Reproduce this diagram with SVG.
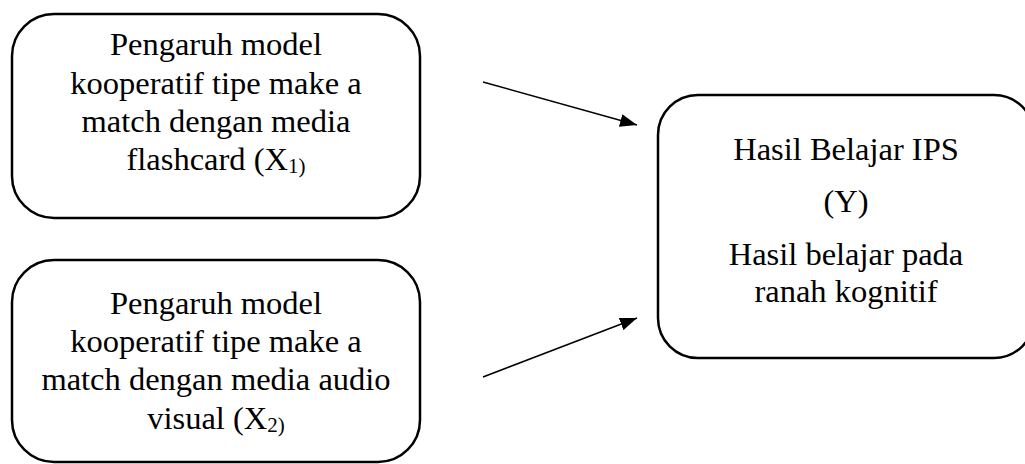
<svg xmlns="http://www.w3.org/2000/svg" width="1025" height="464" viewBox="0 0 1025 464">
  <style>
    .box { fill: #ffffff; stroke: #000000; stroke-width: 2.5; }
    .t { font-family: "Liberation Serif", "Times New Roman", serif; font-size: 32.5px; fill: #000000; text-anchor: middle; }
    .sub { font-size: 21px; }
    .conn { stroke: #000000; stroke-width: 1.5; fill: none; marker-end: url(#arrow); }
  </style>
  <defs>
    <marker id="arrow" viewBox="0 0 17 13" refX="17" refY="6.5" markerWidth="17" markerHeight="13" markerUnits="userSpaceOnUse" orient="auto">
      <path d="M0,0 L17,6.5 L0,13 Z" fill="#000000"/>
    </marker>
  </defs>
  <rect width="1025" height="464" fill="#ffffff"/>
  <g id="node-x1">
    <rect class="box" x="12" y="14" width="408" height="204" rx="42" ry="42"/>
    <text class="t" x="216" y="55">Pengaruh model</text>
    <text class="t" x="216" y="93.5">kooperatif tipe make a</text>
    <text class="t" x="216" y="132">match dengan media</text>
    <text class="t" x="216" y="170">flashcard (X<tspan class="sub" dy="3">1)</tspan></text>
  </g>
  <g id="node-x2">
    <rect class="box" x="12" y="260" width="408" height="202" rx="42" ry="42"/>
    <text class="t" x="216" y="313.5">Pengaruh model</text>
    <text class="t" x="216" y="352">kooperatif tipe make a</text>
    <text class="t" x="216" y="390">match dengan media audio</text>
    <text class="t" x="216" y="428.5">visual (X<tspan class="sub" dy="3">2)</tspan></text>
  </g>
  <g id="node-y">
    <rect class="box" x="658" y="95" width="376" height="263" rx="40" ry="40"/>
    <text class="t" x="846" y="160">Hasil Belajar IPS</text>
    <text class="t" x="846" y="211.5">(Y)</text>
    <text class="t" x="846" y="265">Hasil belajar pada</text>
    <text class="t" x="846" y="301.5">ranah kognitif</text>
  </g>
  <g id="connectors">
    <line class="conn" x1="483" y1="82" x2="637" y2="125"/>
    <line class="conn" x1="483" y1="377" x2="637" y2="318"/>
  </g>
</svg>
